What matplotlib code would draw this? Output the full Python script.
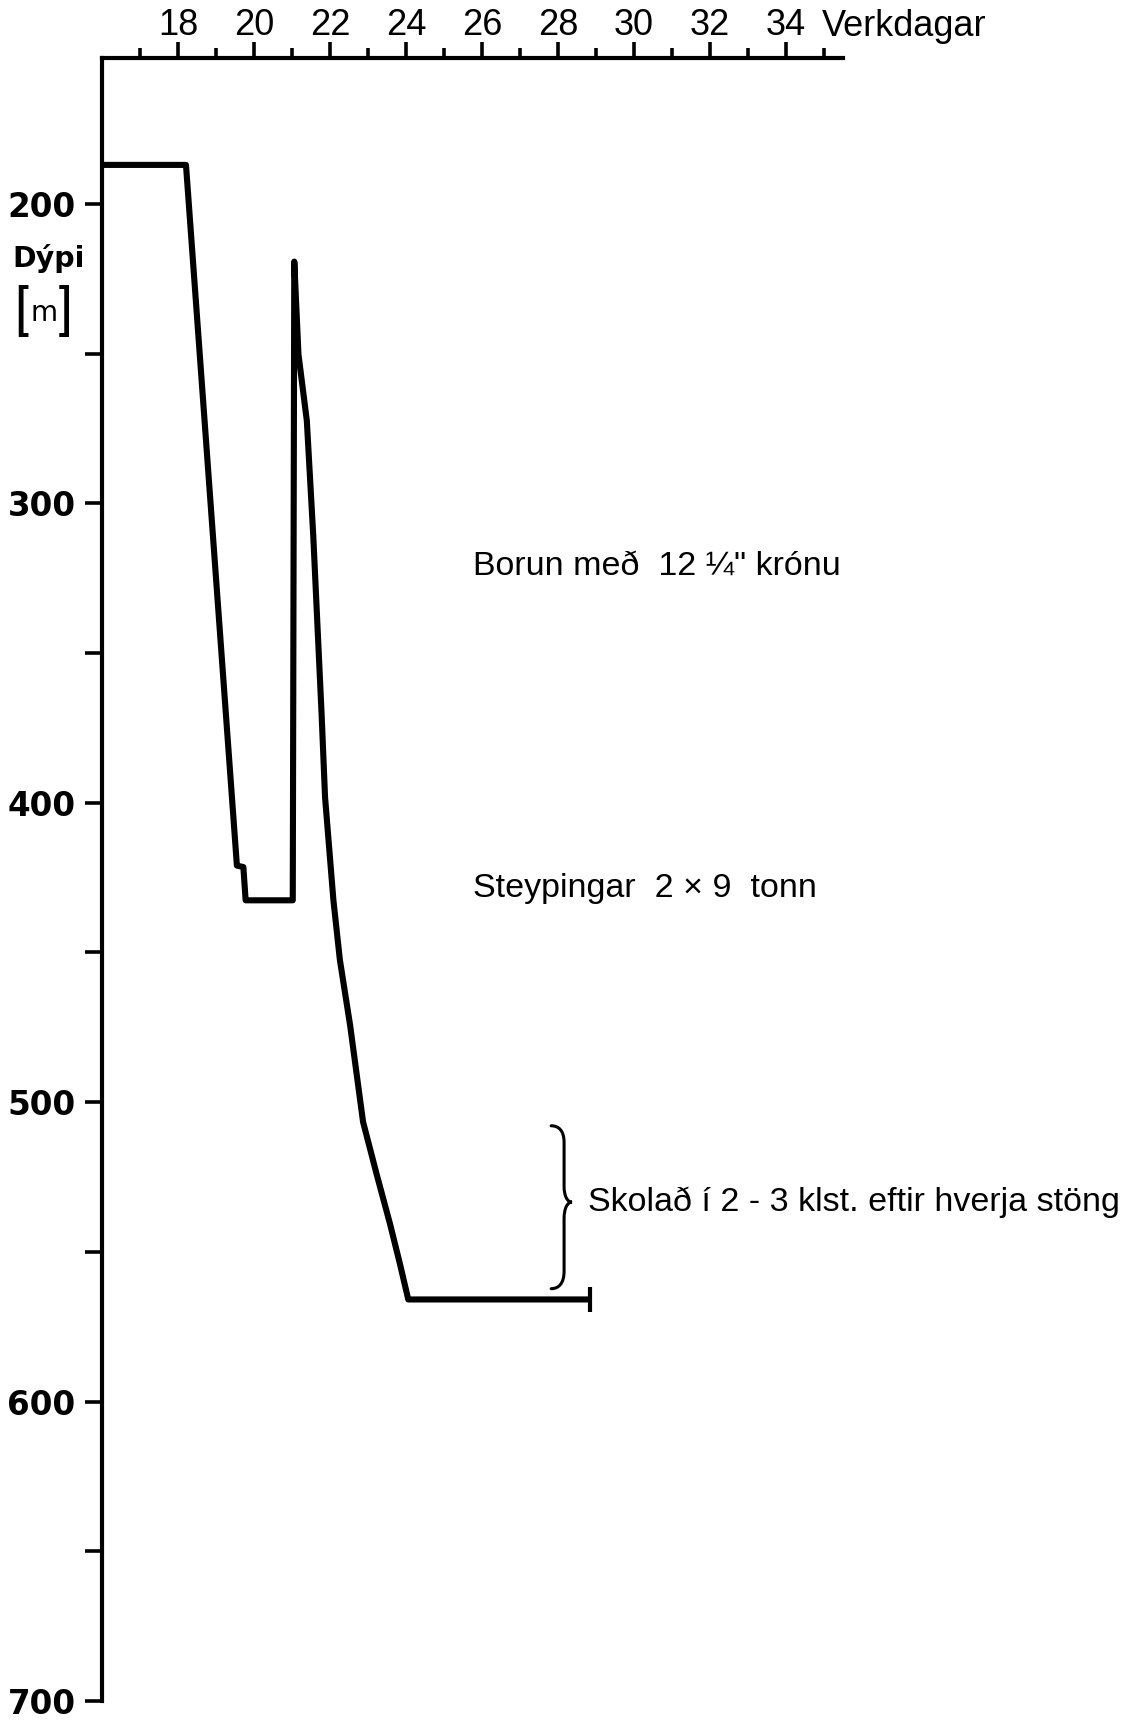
import matplotlib
matplotlib.use("Agg")
import matplotlib.pyplot as plt
from matplotlib.path import Path
from matplotlib.patches import PathPatch
from matplotlib.transforms import blended_transform_factory

# ---- data ----
days = [16.0, 18.21, 19.55, 19.72, 19.78, 21.02, 21.06, 21.17, 21.39, 21.56,
        21.78, 21.87, 22.09, 22.26, 22.53, 22.87, 23.23, 23.58, 23.84, 24.06, 28.84]
depth = [187.0, 187.0, 421.0, 421.5, 432.6, 432.6, 219.3, 250.3, 272.4, 311.0,
         370.7, 398.2, 432.6, 452.5, 474.4, 506.6, 524.2, 540.7, 554.0, 565.9, 565.9]

x_major = [18, 20, 22, 24, 26, 28, 30, 32, 34]
x_minor = [17, 19, 21, 23, 25, 27, 29, 31, 33, 35]
x_labels = [str(v) for v in x_major]
y_major = [200, 300, 400, 500, 600, 700]
y_minor = [250, 350, 450, 550, 650]
y_labels = [str(v) for v in y_major]

x_title = "Verkdagar"
y_title = "Dýpi"
y_unit = "m"
note_drill = "Borun með  12 ¼\" krónu"
note_cement = "Steypingar  2 × 9  tonn"
note_flush = "Skolað í 2 - 3 klst. eftir hverja stöng"

W, H = 1145, 1725
AX_TOP, AX_BOT = 58, 1701
fig = plt.figure(figsize=(W / 100, H / 100), dpi=100)
fig.patch.set_facecolor("white")
ax = fig.add_axes([102 / W, 1 - AX_BOT / H, 741 / W, (AX_BOT - AX_TOP) / H])
ax.set_facecolor("white")

ax.set_xlim(16, 35.5)
ax.set_ylim(700, 151.3)

for s in ("right", "bottom"):
    ax.spines[s].set_visible(False)
for s in ("top", "left"):
    ax.spines[s].set_linewidth(3.0)
    ax.spines[s].set_color("black")

ax.xaxis.tick_top()
ax.set_xticks(x_major)
ax.set_xticklabels(x_labels, family="Liberation Sans", fontsize=26)
ax.set_xticks(x_minor, minor=True)
ax.tick_params(axis="x", which="major", length=11.5, width=2.6, direction="out", pad=-1)
ax.tick_params(axis="x", which="minor", length=7.5, width=2.6, direction="out")

ax.set_yticks(y_major)
ax.set_yticklabels(y_labels, family="DejaVu Sans", fontweight="bold", fontsize=23.5)
ax.set_yticks(y_minor, minor=True)
ax.tick_params(axis="y", which="both", length=12, width=2.6, direction="out", pad=7)

# depth curve
ax.plot(days, depth, color="black", lw=4.4, solid_joinstyle="round",
        solid_capstyle="butt", marker="|", markevery=[len(days) - 1],
        markersize=18, markeredgewidth=3.0, clip_on=False)

# axis titles
axh = AX_BOT - AX_TOP
trans_top = blended_transform_factory(ax.transData, ax.transAxes)
ax.text(34.95, 1 + 31 / axh, x_title, transform=trans_top, ha="left", va="center",
        family="Liberation Sans", fontsize=26)

fig.text(12 / W, 1 - 267 / H, y_title, ha="left", va="baseline",
         family="DejaVu Sans", fontweight="bold", fontsize=20.5)
fig.text(21 / W, 1 - 314 / H, "[", ha="center", va="center",
         family="Roboto", fontsize=38)
fig.text(66 / W, 1 - 314 / H, "]", ha="center", va="center",
         family="Roboto", fontsize=38)
fig.text(44 / W, 1 - 321 / H, y_unit, ha="center", va="baseline",
         family="DejaVu Sans", fontsize=20)

# annotations
ax.text(25.76, 321, note_drill, ha="left", va="center",
        family="Liberation Sans", fontsize=24.5)
ax.text(25.76, 428.7, note_cement, ha="left", va="center",
        family="Liberation Sans", fontsize=24.5)
ax.text(28.79, 533.4, note_flush, ha="left", va="center",
        family="Liberation Sans", fontsize=24.5)

# brace
verts = [(27.82, 507.9), (28.02, 507.9), (28.16, 509.5), (28.16, 513.5),
         (28.16, 528.0),
         (28.16, 531.5), (28.25, 533.4), (28.37, 533.4),
         (28.25, 533.4), (28.16, 535.3), (28.16, 539.0),
         (28.16, 556.5),
         (28.16, 560.5), (28.02, 562.3), (27.82, 562.3)]
codes = [Path.MOVETO, Path.CURVE4, Path.CURVE4, Path.CURVE4,
         Path.LINETO,
         Path.CURVE4, Path.CURVE4, Path.CURVE4,
         Path.CURVE4, Path.CURVE4, Path.CURVE4,
         Path.LINETO,
         Path.CURVE4, Path.CURVE4, Path.CURVE4]
ax.add_patch(PathPatch(Path(verts, codes), facecolor="none", edgecolor="black",
                       lw=2.2, capstyle="round", clip_on=False))

fig.savefig("out.png", dpi=100, facecolor="white")
